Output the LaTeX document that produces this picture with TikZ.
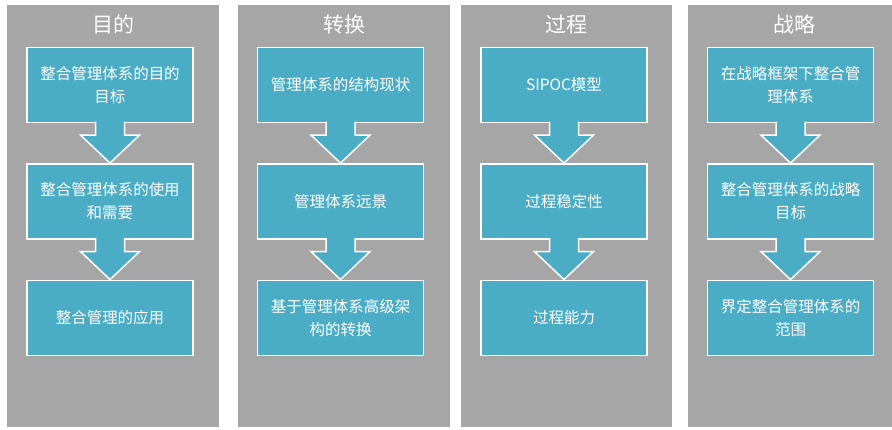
\documentclass[tikz,border=0pt]{standalone}
\usepackage{fontspec}
\setmainfont{Noto Sans CJK SC}
\usepackage{tikz}
\usetikzlibrary{positioning}
\usetikzlibrary{calc}
\definecolor{panelgray}{HTML}{A6A6A6}
\definecolor{boxblue}{HTML}{4BACC6}
\tikzset{
    mypanel/.style = {rectangle, fill=panelgray, minimum width=212pt, minimum height=422pt, inner sep=0pt},
    myhead/.style = {align=center, text=white, font=\fontsize{21pt}{25pt}\selectfont},
    mybox/.style = {rectangle, line width=1.5pt, draw=white, fill=boxblue, align=center, text=white,
                    minimum width=166pt, minimum height=75pt, inner sep=0pt,
                    font=\fontsize{15.5pt}{23pt}\selectfont},
    myarrow/.style = {line width=1.5pt, draw=white, fill=boxblue, line join=miter}, % block arrow
}

\begin{document}
\begin{tikzpicture}[x=1pt, y=1pt, node distance=40pt]
  \useasboundingbox[fill=white] (0,0) rectangle (892,429);
  % columns
  \node[mypanel] (p1) at (113,213) {};
  \node[mypanel] (p2) at (344,213) {};
  \node[mypanel, minimum width=211pt] (p3) at (566.5,213) {};
  \node[mypanel] (p4) at (794,213) {};
  \node[myhead] (h1) at ([yshift=-20pt]p1.north) {目的};
  \node[myhead] (h2) at ([yshift=-20pt]p2.north) {转换};
  \node[myhead] (h3) at ([yshift=-20pt]p3.north) {过程};
  \node[myhead] (h4) at ([yshift=-20pt]p4.north) {战略};
  % boxes
  \node[mybox] (a1) at ([xshift=-3pt, yshift=-80pt]p1.north) {整合管理体系的目的\\目标};
  \node[mybox, below=of a1] (a2) {整合管理体系的使用\\和需要};
  \node[mybox, below=of a2] (a3) {整合管理的应用};
  \node[mybox] (b1) at ([xshift=-3.5pt, yshift=-80pt]p2.north) {管理体系的结构现状};
  \node[mybox, below=of b1] (b2) {管理体系远景};
  \node[mybox, below=of b2] (b3) {基于管理体系高级架\\构的转换};
  \node[mybox] (c1) at ([xshift=-2.5pt, yshift=-80pt]p3.north) {SIPOC模型};
  \node[mybox, below=of c1] (c2) {过程稳定性};
  \node[mybox, below=of c2] (c3) {过程能力};
  \node[mybox] (d1) at ([xshift=-3.5pt, yshift=-80pt]p4.north) {在战略框架下整合管\\理体系};
  \node[mybox, below=of d1] (d2) {整合管理体系的战略\\目标};
  \node[mybox, below=of d2] (d3) {界定整合管理体系的\\范围};
  % arrows
  \foreach \s/\t in {a1/a2, a2/a3, b1/b2, b2/b3, c1/c2, c2/c3, d1/d2, d2/d3}
    \filldraw[myarrow] ($(\s.south)+(-14.5,1.5)$) -- ($(\s.south)+(-14.5,-12)$) -- ($(\s.south)+(-29.5,-12)$)
      -- (\t.north) -- ($(\s.south)+(29.5,-12)$) -- ($(\s.south)+(14.5,-12)$) -- ($(\s.south)+(14.5,1.5)$);
\end{tikzpicture}
\end{document}
